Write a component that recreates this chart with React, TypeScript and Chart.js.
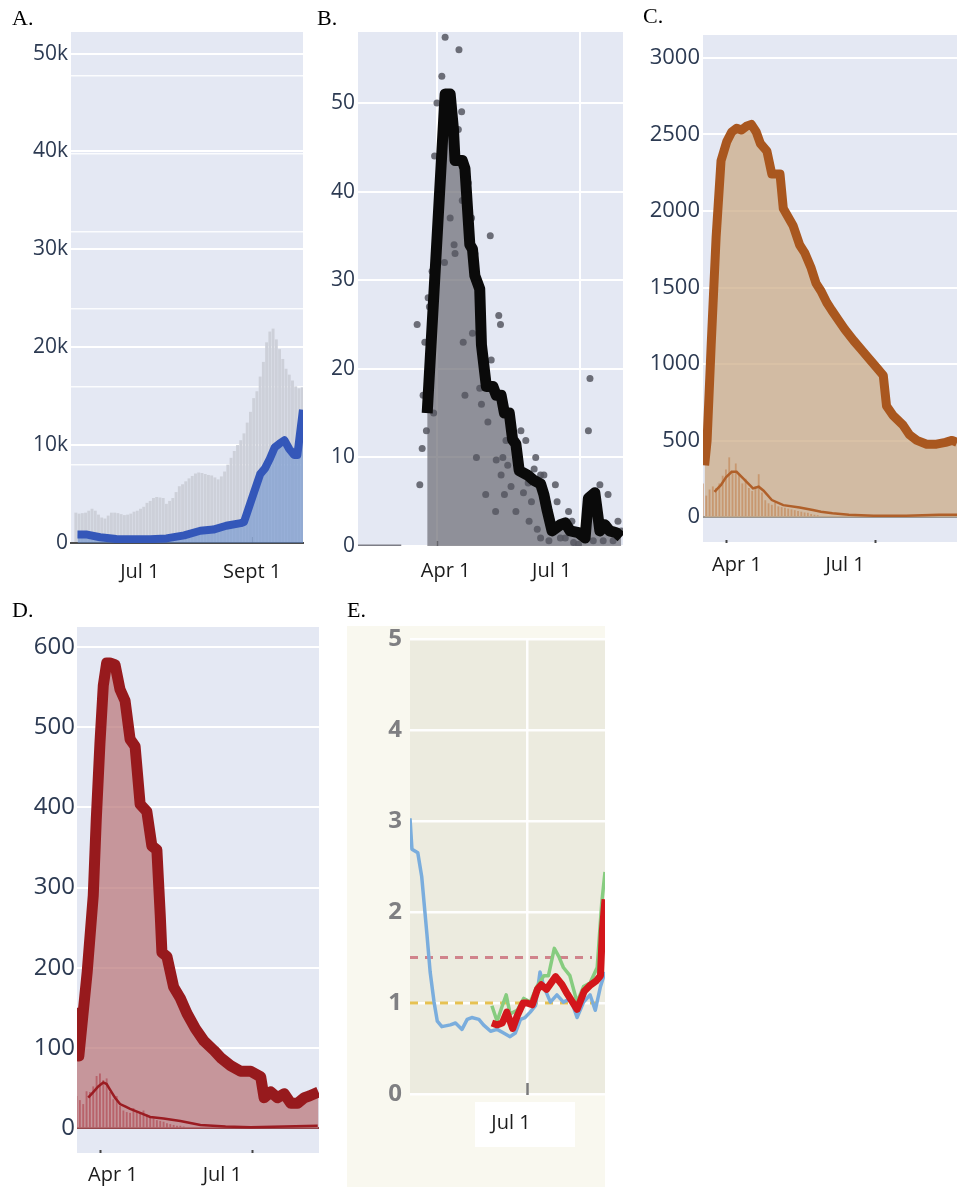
import React, { useEffect, useRef } from 'react';
import { Chart, registerables } from 'chart.js';

Chart.register(...registerables);

// ================= DATA =================
// Panel A — x in days from Jul 1
const aXTickDays = [0, 62];
const aXTickLabels = ['Jul 1', 'Sept 1'];
const aYTicks = [0, 10000, 20000, 30000, 40000, 50000];
const aYTickLabels = ['0', '10k', '20k', '30k', '40k', '50k'];
const aGhostGrid = [7960, 15920, 23880, 31840, 39800, 47760];
const aBarDays = [
  -47, -45, -43, -41, -39, -37, -35, -33, -31, -29, -27, -25, -23, -21, -19, -17, -15, -13, -11, -9,
  -7, -5, -3, -1, 1, 3, 5, 7, 9, 11, 13, 15, 17, 19, 21, 23, 25, 27, 29, 31,
  33, 35, 37, 39, 41, 43, 45, 47, 49, 51, 53, 55, 57, 59, 61, 63, 65, 67, 69, 71,
  73, 75, 77, 79, 81, 83, 85, 87, 89, 91, 93,
];
const aDailyCases = [
  3100, 3000, 3050, 3100, 3300, 3500, 3300, 2900, 2600, 2500, 2800, 3100, 3100, 3050, 2950, 2850, 2900, 3000, 3200, 3300,
  3500, 3700, 4100, 4300, 4600, 4700, 4650, 4600, 4000, 4300, 4600, 5200, 5800, 6000, 6300, 6600, 6850, 7100, 7200, 7150,
  7050, 6950, 6900, 6700, 6500, 6800, 7300, 8000, 8700, 9400, 10000, 10500, 11200, 12300, 13400, 14800, 15500, 17000, 18500, 20500,
  21600, 21900, 20800, 19800, 18800, 17800, 17200, 16600, 16000, 15800, 15900,
];
const aAvgDays = [-46, -40, -32, -22, -11, -1, 9, 20, 30, 38, 46, 55, 57, 63, 67, 70, 73, 76, 79, 82, 85, 88, 90, 93.5];
const aAvgCases = [860, 860, 590, 400, 390, 390, 470, 780, 1250, 1370, 1760, 2030, 2150, 5080, 7030, 7620, 8600, 9770, 10160, 10500, 9600, 9000, 9000, 13600];

// Panel B — x in days from Apr 1
const bXTickDays = [0, 91];
const bXTickLabels = ['Apr 1', 'Jul 1'];
const bYTicks = [0, 10, 20, 30, 40, 50];
const bYTickLabels = ['0', '10', '20', '30', '40', '50'];
const bZeroDays = [-50, -22.5];
const bZeroVals = [0, 0];
const bDotDays = [
  -12.4, -10.7, -9.2, -8.6, -7.5, -6.5, -5.4, -4.6, -2.9, -1.9, -1.3, 0.2, 3.3, 5, 5.4, 8.6, 11.1, 11.7, 13.8, 14.2,
  15.9, 16.3, 16.9, 18, 20.1, 22.2, 22.8, 24.3, 25.3, 27.4, 28.5, 31.2, 32.6, 34.1, 34.7, 37.5, 37.9, 39.5, 40.6, 41,
  42.1, 43.1, 44.1, 45.2, 47.3, 50.4, 53.6, 55.2, 56.7, 58.2, 58.8, 60.3, 62, 63, 64, 66.1, 66.1, 68.2, 71.4, 75.5,
  76.6, 78.7, 81.8, 83.9, 86, 87.1, 90.2, 96.5, 97.5, 99.6, 103.8, 105.9, 109, 112.2, 115.3, 117.4,
];
const bDotVals = [
  25, 6.9, 11, 17, 23, 13, 28, 27, 31, 15, 44, 50, 53, 32, 57.4, 37, 34, 33, 47, 56,
  49, 39, 23, 17, 41, 37, 24, 33, 10, 17.8, 16, 5.8, 14, 35, 21, 3.9, 9.7, 26, 25, 8,
  10, 5.8, 11.9, 9.1, 6.7, 3.9, 13, 6, 11.9, 7.1, 2.8, 5, 8.7, 10, 1.9, 8, 0.9, 8, 0.6, 6.9,
  5, 0.9, 0.9, 3.9, 2.8, 0.4, 0.2, 13, 18.9, 0.6, 6.9, 0.6, 5.8, 0.6, 2.8, 1.7,
];
const bAvgDays = [
  -6, 5.4, 8.6, 10.7, 11.7, 16.3, 18, 21.1, 22.8, 24.3, 27.4, 28.5, 31.6, 35.8, 37.9, 41, 43.1, 46.2, 48.3, 50.4,
  52.5, 57.8, 61.9, 66.1, 68.2, 70.3, 73.4, 78.7, 81.8, 84.9, 90.2, 94.4, 96.5, 100.6, 103.8, 106.9, 110, 114.3, 117.4,
];
const bAvgVals = [
  15, 51, 51, 47, 43.5, 43.5, 42.6, 34, 33.5, 30.5, 29, 22.7, 18, 18, 17, 17, 15, 15, 12, 11.5,
  8.5, 8, 7.4, 7, 5.8, 4, 1.7, 2.4, 2.6, 1.7, 1.5, 0.9, 5.4, 6, 1.7, 2.4, 1.7, 1.5, 1,
];

// Panel C — x in days from Apr 1
const cXTickDays = [0, 91];
const cXTickLabels = ['Apr 1', 'Jul 1'];
const cYTicks = [0, 500, 1000, 1500, 2000, 2500, 3000];
const cYTickLabels = ['0', '500', '1000', '1500', '2000', '2500', '3000'];
const cTotalDays = [
  -13, -11.5, -9, -6, -3, 0.5, 3.5, 6.5, 9.5, 12.5, 15.5, 18.5, 21, 25, 28, 33, 35, 41, 45, 48,
  52, 55, 58, 61.5, 64.5, 68.5, 72.5, 78, 82, 86, 89, 92, 96, 98, 102, 108, 112, 116.5, 122.5, 128.5,
  134, 138, 141,
];
const cTotalVals = [
  338, 500, 1127, 1828, 2328, 2453, 2516, 2541, 2529, 2554, 2566, 2516, 2441, 2391, 2241, 2241, 2016, 1903, 1778, 1728,
  1627, 1527, 1477, 1402, 1352, 1289, 1227, 1152, 1102, 1052, 1014, 976, 926, 726, 663, 601, 538, 501, 476, 476,
  488, 501, 488,
];
const cNewDays = [-7, -3, 0, 3.5, 6.5, 10.5, 16.5, 20, 23, 28, 35, 45, 53, 58, 65, 75, 90, 110, 130, 141];
const cNewVals = [165, 210, 260, 296, 296, 253, 187, 198, 172, 111, 78, 63, 46, 35, 25, 15, 8, 8, 15, 15];
const cBarDays = [-14, -12, -10, -8, -6, -4, -2, 0, 2, 4, 6, 8, 10, 12, 14, 16, 18, 20, 22, 24, 26, 28, 30, 32, 34, 36, 38, 40, 42, 44, 46, 48, 50, 52, 54, 56];
const cBarVals = [220, 140, 180, 200, 190, 220, 270, 310, 390, 300, 350, 280, 220, 250, 190, 170, 200, 280, 160, 110, 90, 80, 95, 70, 65, 60, 55, 50, 45, 40, 35, 30, 28, 20, 15, 12];

// Panel D — x in days from Apr 1
const dXTickDays = [0, 91];
const dXTickLabels = ['Apr 1', 'Jul 1'];
const dYTicks = [0, 100, 200, 300, 400, 500, 600];
const dYTickLabels = ['0', '100', '200', '300', '400', '500', '600'];
const dTotalDays = [
  -13.7, -12.6, -7.6, -4, -2.2, 0, 2, 4, 6, 9, 12, 15, 18, 21, 24, 28, 31, 34, 36, 37,
  40, 44, 48, 52, 57, 62, 68, 72, 78, 84, 90, 96, 98, 102, 106, 110, 114, 118, 122, 125, 130.5,
];
const dTotalVals = [
  150, 90, 195, 290, 385, 480, 552, 580, 580, 578, 547, 533, 485, 476, 404, 395, 352, 347, 266, 219,
  214, 176, 162, 143, 124, 109, 97, 88, 78, 71, 71, 64, 38, 45, 38, 43, 31, 31, 38, 40, 45,
];
const dNewDays = [-7, -4, -1, 2, 4, 6, 9, 12, 15, 18, 24, 30, 38, 48, 60, 75, 90, 110, 130];
const dNewVals = [38, 45, 52, 57, 55, 48, 38, 30, 27, 24, 19, 14, 12, 9, 4, 2, 1, 2, 3];
const dBarDays = [-14, -12, -10, -8, -6, -4, -2, 0, 2, 4, 6, 8, 10, 12, 14, 16, 18, 20, 22, 24, 26, 28, 30, 32, 34, 36, 38, 40, 42, 44, 46, 48, 50];
const dBarVals = [40, 35, 30, 46, 45, 52, 65, 68, 60, 62, 45, 36, 40, 28, 22, 20, 19, 25, 21, 20, 22, 17, 14, 12, 10, 9, 8, 6, 5, 4, 3, 3, 2];

// Panel E — x in days from Jul 1
const eXTickDays = [0];
const eXTickLabels = ['Jul 1'];
const eYTicks = [0, 1, 2, 3, 4, 5];
const eYTickLabels = ['0', '1', '2', '3', '4', '5'];
const eBlueDays = [
  -90, -88.5, -84, -81, -77, -74.5, -71.5, -69, -65.5, -59, -55, -50, -46, -42.5, -37, -33.5, -28, -23, -18, -13,
  -9, -5, -1.5, 2.5, 6.5, 10, 13, 18, 23, 28, 33.5, 38.5, 43.5, 48.5, 52.5, 56.5, 60,
];
const eBlueVals = [
  3.03, 2.69, 2.65, 2.39, 1.76, 1.34, 1.01, 0.8, 0.74, 0.76, 0.78, 0.71, 0.82, 0.84, 0.82, 0.76, 0.69, 0.71, 0.67, 0.63,
  0.67, 0.82, 0.84, 0.9, 0.97, 1.34, 1.18, 1.01, 1.09, 1.01, 1.05, 0.84, 1.01, 1.09, 0.92, 1.18, 1.34,
];
const eGreenDays = [-27, -23, -19, -16, -13, -7.5, -2.5, 2.5, 7.5, 13, 16.5, 21, 24.5, 28, 33, 38.5, 43.5, 48.5, 54, 57.5, 60];
const eGreenVals = [0.97, 0.8, 0.97, 1.09, 0.88, 0.92, 1.05, 1.01, 1.18, 1.3, 1.3, 1.6, 1.51, 1.39, 1.3, 1.01, 1.18, 1.22, 1.39, 2.1, 2.44];
const eRedDays = [-27, -23, -19, -15.5, -11, -7.5, -3, 0, 4, 8, 11, 15, 22, 27, 31, 38.5, 44, 49, 53, 56.5, 58, 60];
const eRedVals = [0.78, 0.76, 0.78, 0.9, 0.72, 0.86, 1.0, 1.0, 0.98, 1.15, 1.2, 1.15, 1.29, 1.2, 1.1, 0.93, 1.13, 1.2, 1.24, 1.3, 1.8, 2.14];
const eUpperRefDays = [-90, 50];
const eUpperRefVals = [1.5, 1.5];
const eLowerRefDays = [-90, 57];
const eLowerRefVals = [1, 1];

// ================= HELPERS =================
const TICK_FONT = "'Open Sans', 'DejaVu Sans', sans-serif";
const AXIS_TEXT = '#2c3a52';
const LABEL_TEXT = '#1c1c1c';
const PLOT_BG = '#e4e8f3';

const pairs = (xs: number[], ys: number[]) => xs.map((x, i) => ({ x, y: ys[i] }));

function makeDecor(d: any) {
  return {
    id: 'decor',
    beforeDraw(chart: any) {
      const { ctx, chartArea: a } = chart;
      ctx.save();
      if (d.paper) {
        ctx.fillStyle = d.paper;
        ctx.fillRect(0, 0, chart.width, chart.height);
      }
      ctx.fillStyle = d.bg;
      ctx.fillRect(a.left, a.top, a.right - a.left, a.bottom - a.top);
      ctx.restore();
    },
    beforeDatasetsDraw(chart: any) {
      const { ctx, chartArea: a, scales } = chart;
      const xs = scales.x;
      ctx.save();
      ctx.strokeStyle = d.markColor;
      ctx.lineWidth = d.markWidth;
      for (const v of d.marks) {
        const px = Math.round(xs.getPixelForValue(v)) + 0.5;
        ctx.beginPath();
        ctx.moveTo(px, a.bottom + d.markFrom);
        ctx.lineTo(px, a.bottom + d.markTo);
        ctx.stroke();
      }
      ctx.restore();
    },
    afterDraw(chart: any) {
      const { ctx, chartArea: a, scales } = chart;
      const xs = scales.x;
      ctx.save();
      if (d.box) {
        const px = xs.getPixelForValue(d.box.value);
        ctx.fillStyle = '#ffffff';
        ctx.fillRect(px + d.box.dx, a.bottom + d.box.dy, d.box.w, d.box.h);
      }
      ctx.font = d.labelFont;
      ctx.fillStyle = d.labelColor;
      ctx.textAlign = 'center';
      ctx.textBaseline = 'middle';
      d.tickDays.forEach((v: number, i: number) => {
        ctx.fillText(d.tickLabels[i], xs.getPixelForValue(v) + d.labelDx[i], a.bottom + d.labelDy);
      });
      ctx.restore();
    },
  };
}

function build(s: any) {
  const scales: any = {
    x: {
      type: 'linear',
      min: s.xMin,
      max: s.xMax,
      offset: false,
      afterBuildTicks: (sc: any) => {
        sc.ticks = s.xTicks.map((v: number) => ({ value: v }));
      },
      afterFit: (sc: any) => {
        sc.height = s.xh;
        sc.paddingLeft = 0;
        sc.paddingRight = 0;
      },
      ticks: { display: false },
      grid: { display: !!s.xGrid, color: s.xGridColor || '#ffffff', lineWidth: s.xGridWidth || 2, drawTicks: false },
      border: s.xBorder ? { display: true, color: s.xBorder.color, width: s.xBorder.width } : { display: false },
    },
    y: {
      type: 'linear',
      position: 'left',
      min: s.yMin,
      max: s.yMax,
      afterBuildTicks: (sc: any) => {
        sc.ticks = s.yTicks.map((v: number) => ({ value: v }));
      },
      afterFit: (sc: any) => {
        sc.width = s.yw;
        sc.paddingTop = 0;
        sc.paddingBottom = 0;
      },
      ticks: {
        callback: (_v: any, i: number) => s.yLabels[i],
        font: s.yFont,
        color: s.yColor || AXIS_TEXT,
        padding: s.yPad,
      },
      grid: {
        color: (c: any) => (s.zeroColor && c.tick && c.tick.value === 0 ? s.zeroColor : s.gridColor || '#ffffff'),
        lineWidth: s.gridWidth || 2,
        drawTicks: false,
      },
      border: { display: false },
    },
  };
  if (s.ghost) {
    scales.y2 = {
      type: 'linear',
      position: 'left',
      min: s.yMin,
      max: s.yMax,
      afterBuildTicks: (sc: any) => {
        sc.ticks = s.ghost.map((v: number) => ({ value: v }));
      },
      afterFit: (sc: any) => {
        sc.width = 0;
        sc.paddingTop = 0;
        sc.paddingBottom = 0;
      },
      ticks: { display: false },
      grid: { color: 'rgba(255,255,255,0.85)', lineWidth: 1.5, drawTicks: false },
      border: { display: false },
    };
  }
  return {
    type: 'line',
    data: { datasets: s.datasets },
    plugins: [makeDecor(s.decor)],
    options: {
      animation: false,
      responsive: false,
      devicePixelRatio: 1,
      events: [],
      layout: { padding: { top: s.padTop, right: s.padRight, left: 0, bottom: 0 } },
      elements: { point: { radius: 0 }, line: { tension: 0 } },
      plugins: { legend: { display: false }, tooltip: { enabled: false } },
      scales,
    },
  };
}

// ================= PANEL CONFIGS =================
const configA = () =>
  build({
    xMin: -50, xMax: 93.5, xTicks: aXTickDays, xh: 57,
    xBorder: { color: '#4d4d4d', width: 2 },
    yMin: 0, yMax: 52200, yTicks: aYTicks, yLabels: aYTickLabels, yw: 56, yPad: 3,
    yFont: { family: TICK_FONT, size: 21 },
    ghost: aGhostGrid,
    padTop: 20, padRight: 2,
    datasets: [
      {
        type: 'line', data: pairs(aAvgDays, aAvgCases), borderColor: '#3457b9', borderWidth: 8,
        borderJoinStyle: 'round', fill: 'origin', backgroundColor: 'rgba(100,140,205,0.55)', pointRadius: 0,
      },
      {
        type: 'bar', data: pairs(aBarDays, aDailyCases), backgroundColor: '#cdd0d9',
        barPercentage: 0.9, categoryPercentage: 1, borderWidth: 0,
      },
    ],
    decor: {
      bg: PLOT_BG, marks: aXTickDays, markFrom: -6, markTo: 0, markColor: '#444', markWidth: 1.5,
      tickDays: aXTickDays, tickLabels: aXTickLabels, labelDx: [-12, 0], labelDy: 29,
      labelFont: `20px ${TICK_FONT}`, labelColor: LABEL_TEXT,
    },
  });

const configB = () =>
  build({
    xMin: -50, xMax: 118.5, xTicks: bXTickDays, xh: 54, xGrid: true,
    yMin: 0, yMax: 58, yTicks: bYTicks, yLabels: bYTickLabels, yw: 36, yPad: 3,
    yFont: { family: TICK_FONT, size: 21 },
    padTop: 20, padRight: 0,
    datasets: [
      {
        type: 'line', data: pairs(bAvgDays, bAvgVals), borderColor: '#0a0a0a', borderWidth: 11,
        borderJoinStyle: 'round', fill: false, pointRadius: 0,
      },
      {
        type: 'line', data: pairs(bDotDays, bDotVals), showLine: false, pointRadius: 3.5,
        pointBackgroundColor: 'rgba(86,87,96,0.85)', pointBorderWidth: 0, pointBorderColor: 'rgba(0,0,0,0)',
      },
      {
        type: 'line', data: pairs(bAvgDays, bAvgVals), borderWidth: 0, borderColor: 'rgba(0,0,0,0)',
        fill: 'origin', backgroundColor: 'rgba(110,110,118,0.72)', pointRadius: 0,
      },
      {
        type: 'line', data: pairs(bZeroDays, bZeroVals), borderColor: '#7c7d86', borderWidth: 3, pointRadius: 0,
      },
    ],
    decor: {
      bg: PLOT_BG, marks: [0], markFrom: -5, markTo: 0, markColor: '#555', markWidth: 1.5,
      tickDays: bXTickDays, tickLabels: bXTickLabels, labelDx: [9, -28], labelDy: 25,
      labelFont: `20px ${TICK_FONT}`, labelColor: LABEL_TEXT,
    },
  });

const configC = () =>
  build({
    xMin: -14, xMax: 141, xTicks: cXTickDays, xh: 58,
    yMin: -163, yMax: 3150, yTicks: cYTicks, yLabels: cYTickLabels, yw: 63, yPad: 3,
    yFont: { family: TICK_FONT, size: 22 }, zeroColor: '#9a9692',
    padTop: 20, padRight: 0,
    datasets: [
      {
        type: 'line', data: pairs(cNewDays, cNewVals), borderColor: '#b0602a', borderWidth: 2.5, pointRadius: 0,
      },
      {
        type: 'line', data: pairs(cTotalDays, cTotalVals), borderColor: '#a9571f', borderWidth: 9,
        borderJoinStyle: 'round', fill: false, pointRadius: 0,
      },
      {
        type: 'bar', data: pairs(cBarDays, cBarVals), backgroundColor: 'rgba(190,118,62,0.5)',
        barPercentage: 0.55, categoryPercentage: 1, borderWidth: 0,
      },
      {
        type: 'line', data: pairs(cTotalDays, cTotalVals), borderWidth: 0, borderColor: 'rgba(0,0,0,0)',
        fill: 'origin', backgroundColor: 'rgba(204,172,136,0.75)', pointRadius: 0,
      },
    ],
    decor: {
      bg: PLOT_BG, marks: cXTickDays, markFrom: -2, markTo: 1, markColor: '#444', markWidth: 2,
      tickDays: cXTickDays, tickLabels: cXTickLabels, labelDx: [11, -30], labelDy: 23,
      labelFont: `20px ${TICK_FONT}`, labelColor: LABEL_TEXT,
    },
  });

const configD = () =>
  build({
    xMin: -13.7, xMax: 130.8, xTicks: dXTickDays, xh: 34,
    yMin: -31, yMax: 625, yTicks: dYTicks, yLabels: dYTickLabels, yw: 62, yPad: 2,
    yFont: { family: TICK_FONT, size: 24 }, zeroColor: '#8e3a40',
    padTop: 20, padRight: 1,
    datasets: [
      {
        type: 'line', data: pairs(dNewDays, dNewVals), borderColor: '#9b1c22', borderWidth: 2.5, pointRadius: 0,
      },
      {
        type: 'line', data: pairs(dTotalDays, dTotalVals), borderColor: '#971a1d', borderWidth: 11,
        borderJoinStyle: 'round', fill: false, pointRadius: 0,
      },
      {
        type: 'bar', data: pairs(dBarDays, dBarVals), backgroundColor: 'rgba(170,45,58,0.5)',
        barPercentage: 0.55, categoryPercentage: 1, borderWidth: 0,
      },
      {
        type: 'line', data: pairs(dTotalDays, dTotalVals), borderWidth: 0, borderColor: 'rgba(0,0,0,0)',
        fill: 'origin', backgroundColor: 'rgba(188,123,126,0.75)', pointRadius: 0,
      },
    ],
    decor: {
      bg: PLOT_BG, marks: dXTickDays, markFrom: -3, markTo: 0, markColor: '#444', markWidth: 2,
      tickDays: dXTickDays, tickLabels: dXTickLabels, labelDx: [13, -30], labelDy: 22,
      labelFont: `20px ${TICK_FONT}`, labelColor: LABEL_TEXT,
    },
  });

const configE = () =>
  build({
    xMin: -90, xMax: 60, xTicks: eXTickDays, xh: 93, xGrid: true, xGridColor: 'rgba(255,255,255,0.95)', xGridWidth: 2.5,
    yMin: 0, yMax: 5, yTicks: eYTicks, yLabels: eYTickLabels, yw: 63, yPad: 8,
    yFont: { family: TICK_FONT, size: 24, weight: 'bold' }, yColor: '#7f7f82',
    gridColor: 'rgba(255,255,255,0.95)', gridWidth: 2.5,
    padTop: 13, padRight: 0,
    datasets: [
      {
        type: 'line', data: pairs(eRedDays, eRedVals), borderColor: '#d3161b', borderWidth: 7,
        borderJoinStyle: 'round', pointRadius: 0,
      },
      {
        type: 'line', data: pairs(eGreenDays, eGreenVals), borderColor: '#86cc7f', borderWidth: 3.5,
        borderJoinStyle: 'round', pointRadius: 0,
      },
      {
        type: 'line', data: pairs(eBlueDays, eBlueVals), borderColor: '#7aaddd', borderWidth: 3.5,
        borderJoinStyle: 'round', pointRadius: 0,
      },
      {
        type: 'line', data: pairs(eUpperRefDays, eUpperRefVals), borderColor: 'rgba(205,120,130,0.9)',
        borderWidth: 3, borderDash: [8, 7], pointRadius: 0,
      },
      {
        type: 'line', data: pairs(eLowerRefDays, eLowerRefVals), borderColor: '#e6c152',
        borderWidth: 3, borderDash: [8, 7], pointRadius: 0,
      },
    ],
    decor: {
      paper: '#f9f8ef', bg: '#ecebdf', marks: eXTickDays, markFrom: -11, markTo: 1, markColor: '#7a7a7a', markWidth: 2.5,
      box: { value: 0, dx: -52, dy: 8, w: 100, h: 45 },
      tickDays: eXTickDays, tickLabels: eXTickLabels, labelDx: [-16], labelDy: 29,
      labelFont: `20px ${TICK_FONT}`, labelColor: LABEL_TEXT,
    },
  });

// ================= COMPONENTS =================
function ChartBox(props: { left: number; top: number; width: number; height: number; make: () => any }) {
  const ref = useRef<HTMLCanvasElement>(null);
  useEffect(() => {
    const chart = new Chart(ref.current as HTMLCanvasElement, props.make());
    return () => chart.destroy();
  }, []);
  return (
    <canvas
      ref={ref}
      width={props.width}
      height={props.height}
      style={{ position: 'absolute', left: props.left, top: props.top, width: props.width, height: props.height }}
    />
  );
}

const panelLabel = (text: string, left: number, top: number) => (
  <div
    key={text}
    style={{
      position: 'absolute', left, top, fontFamily: "'Liberation Serif', 'Times New Roman', serif",
      fontSize: 22, lineHeight: '22px', color: '#000',
    }}
  >
    {text}
  </div>
);

export default function App() {
  return (
    <div style={{ position: 'absolute', left: 0, top: 0, width: 957, height: 1187, background: '#ffffff', overflow: 'hidden' }}>
      <ChartBox left={15} top={12} width={290} height={588} make={configA} />
      <ChartBox left={322} top={12} width={305} height={588} make={configB} />
      <ChartBox left={640} top={15} width={317} height={585} make={configC} />
      <ChartBox left={15} top={607} width={305} height={580} make={configD} />
      <ChartBox left={347} top={626} width={258} height={561} make={configE} />
      {panelLabel('A.', 12, 7)}
      {panelLabel('B.', 317, 7)}
      {panelLabel('C.', 643, 5)}
      {panelLabel('D.', 12, 599)}
      {panelLabel('E.', 347, 599)}
    </div>
  );
}
